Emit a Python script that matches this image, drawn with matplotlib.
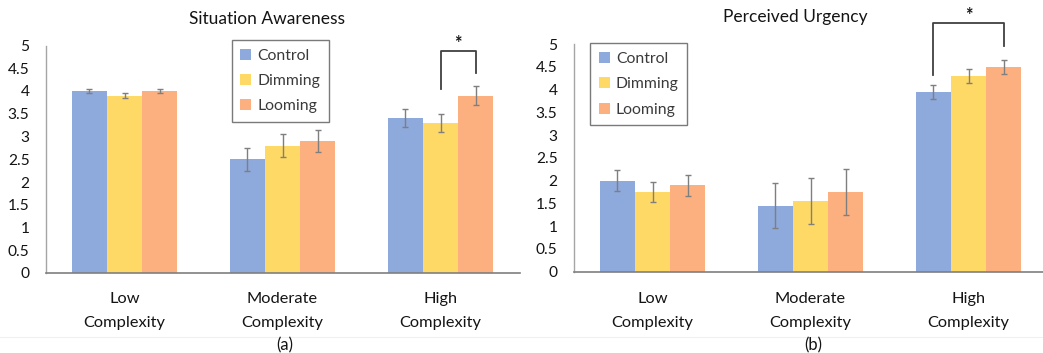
import matplotlib
matplotlib.use("Agg")
import matplotlib.pyplot as plt
import numpy as np
from matplotlib.patches import Patch
from matplotlib.lines import Line2D
from matplotlib.transforms import blended_transform_factory

plt.rcParams['font.family'] = ['Lato', 'DejaVu Sans']

categories = ["Low\nComplexity", "Moderate\nComplexity", "High\nComplexity"]
series = ["Control", "Dimming", "Looming"]
colors = ["#8EA9DB", "#FFD966", "#FCB07F"]

sa_control = [4.0, 2.5, 3.4]
sa_dimming = [3.9, 2.8, 3.3]
sa_looming = [4.0, 2.9, 3.9]
sa_control_err = [0.05, 0.25, 0.2]
sa_dimming_err = [0.05, 0.26, 0.2]
sa_looming_err = [0.05, 0.25, 0.2]

pu_control = [2.0, 1.45, 3.95]
pu_dimming = [1.75, 1.55, 4.3]
pu_looming = [1.9, 1.75, 4.5]
pu_control_err = [0.23, 0.5, 0.15]
pu_dimming_err = [0.22, 0.5, 0.15]
pu_looming_err = [0.23, 0.5, 0.15]

yticks = [0, 0.5, 1, 1.5, 2, 2.5, 3, 3.5, 4, 4.5, 5]
ytick_labels = ["0", "0.5", "1", "1.5", "2", "2.5", "3", "3.5", "4", "4.5", "5"]

TXT = "#141414"
W, H = 1043, 353
fig = plt.figure(figsize=(W / 100, H / 100), dpi=100)

def px(x0, y_axis0, width, height):
    return [x0 / W, 1 - y_axis0 / H, width / W, height / H]

ax1 = fig.add_axes(px(45.5, 273, 474, 227.5))
ax2 = fig.add_axes(px(573.5, 271.7, 474, 227.5))

bw = 0.222
x = np.arange(len(categories))

def draw(ax, vals, errs):
    for i, (v, e, c) in enumerate(zip(vals, errs, colors)):
        ax.bar(x + (i - 1) * bw, v, bw, color=c, yerr=e, zorder=2,
               error_kw=dict(ecolor="#7f7f7f", elinewidth=1.0, capsize=2, capthick=1.0))
    ax.set_xlim(-0.5, 2.5)
    ax.set_ylim(0, 5)
    ax.set_yticks(yticks)
    ax.set_yticklabels(ytick_labels, fontsize=11.2, color=TXT)
    ax.set_xticks(x)
    ax.set_xticklabels([])
    ax.tick_params(axis='y', length=0, pad=11.5)
    ax.tick_params(axis='x', length=0)
    tr = blended_transform_factory(ax.transData, fig.transFigure)
    for xi, cat in zip(x, categories):
        l1, l2 = cat.split("\n")
        ax.text(xi, 1 - 303.3 / H, l1, transform=tr, ha="center", va="baseline",
                fontsize=11.8, color=TXT)
        ax.text(xi, 1 - 326.5 / H, l2, transform=tr, ha="center", va="baseline",
                fontsize=11.8, color=TXT)
    for s in ["top", "right"]:
        ax.spines[s].set_visible(False)
    ax.spines["left"].set_color("#a6a6a6")
    ax.spines["left"].set_linewidth(1.0)
    ax.spines["bottom"].set_color("#7f7f7f")
    ax.spines["bottom"].set_linewidth(1.2)

draw(ax1, [sa_control, sa_dimming, sa_looming], [sa_control_err, sa_dimming_err, sa_looming_err])
draw(ax2, [pu_control, pu_dimming, pu_looming], [pu_control_err, pu_dimming_err, pu_looming_err])

def bracket(ax, xa, xb, ya, yb, ytop, ystar):
    ax.add_line(Line2D([xa, xa, xb, xb], [ya, ytop, ytop, yb], color="#404040",
                       lw=1.3, clip_on=False, zorder=3))
    ax.text((xa + xb) / 2, ystar, "*", ha="center", va="center", fontsize=13,
            fontweight="bold", color=TXT, clip_on=False)

bracket(ax1, 2, 2 + bw, 4.04, 4.39, 4.88, 5.05)
bracket(ax2, 2 - bw, 2 + bw, 4.32, 4.96, 5.46, 5.64)

handles = [Patch(facecolor=c, edgecolor="none") for c in colors]
for ax, anchor in [(ax1, (231.7 / W, 1 - 40 / H)), (ax2, (590 / W, 1 - 43.3 / H))]:
    leg = fig.legend(handles, series, loc="upper left", bbox_to_anchor=anchor,
                     bbox_transform=fig.transFigure, borderaxespad=0, fontsize=11.3,
                     frameon=True, fancybox=False, handlelength=0.7, handleheight=0.7,
                     handletextpad=0.4, labelspacing=0.72, borderpad=0.55)
    leg.get_frame().set_edgecolor("#595959")
    leg.get_frame().set_linewidth(1.0)
    for t in leg.get_texts():
        t.set_color("#3a3a3a")

fig.text(267 / W, 1 - 19 / H, "Situation Awareness", ha="center", va="center",
         fontsize=12.5, color=TXT)
fig.text(795 / W, 1 - 17.3 / H, "Perceived Urgency", ha="center", va="center",
         fontsize=12.5, color=TXT)
fig.text(285 / W, 1 - 345 / H, "(a)", ha="center", va="center", fontsize=12, color=TXT)
fig.text(813 / W, 1 - 345 / H, "(b)", ha="center", va="center", fontsize=12, color=TXT)

fig.add_artist(Line2D([0, 1], [1 - 336.7 / H, 1 - 336.7 / H], transform=fig.transFigure,
                      color="#f0f0f0", lw=0.8))

fig.savefig("out.png", dpi=100)
